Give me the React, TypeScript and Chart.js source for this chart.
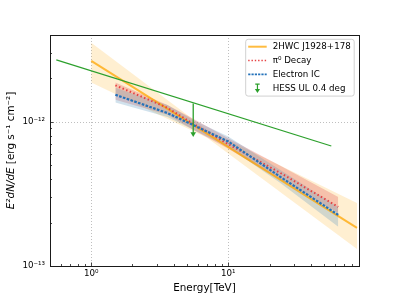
import React, { useEffect, useRef } from 'react';
import { Chart, registerables } from 'chart.js';

Chart.register(...registerables);

const FONT_FAMILY = "'DejaVu Sans', 'Liberation Sans', sans-serif";
const FONT_SIZE = 8.7;
const TITLE_SIZE = 10.4;

// Axis ranges & ticks
const xRange = [0.5, 90];
const yRange = [1e-13, 4e-12];
const xTickValues = [1, 10];
const xTickLabels = ['10⁰', '10¹'];
const yTickValues = [1e-13, 1e-12];
const yTickLabels = ['10⁻¹³', '10⁻¹²'];
const xMinorTicks = [0.5, 0.6, 0.7, 0.8, 0.9, 2, 3, 4, 5, 6, 7, 8, 9, 20, 30, 40, 50, 60, 70, 80, 90];
const yMinorTicks = [2e-13, 3e-13, 4e-13, 5e-13, 6e-13, 7e-13, 8e-13, 9e-13, 2e-12, 3e-12];

// 2HWC J1928+178 power law (TeV, erg s^-1 cm^-2)
const hawcEnergy = [1, 87];
const hawcFlux = [2.65e-12, 1.84e-13];
const hawcBandEnergy = [1, 7.0, 87];
const hawcBandUpper = [3.54e-12, 8.8e-13, 2.74e-13];
const hawcBandLower = [1.87e-12, 7.74e-13, 1.31e-13];

// Model energies
const modelEnergy = [1.5, 3.6, 5.55, 10, 24, 63.5];
// pi0 decay
const piFlux = [1.79e-12, 1.25e-12, 9.7e-13, 7.0e-13, 4.42e-13, 2.57e-13];
const piUpper = [1.87e-12, 1.31e-12, 1.05e-12, 7.7e-13, 4.95e-13, 3.01e-13];
const piLower = [1.42e-12, 1.12e-12, 8.8e-13, 6.5e-13, 3.96e-13, 2.33e-13];
// Electron IC
const icFlux = [1.54e-12, 1.15e-12, 9.5e-13, 7.3e-13, 4.15e-13, 2.26e-13];
const icUpper = [1.72e-12, 1.31e-12, 1.03e-12, 7.9e-13, 4.64e-13, 2.57e-13];
const icLower = [1.36e-12, 1.08e-12, 8.8e-13, 6.7e-13, 3.77e-13, 1.87e-13];

// Green sensitivity line
const greenEnergy = [0.556, 56.5];
const greenFlux = [2.69e-12, 6.8e-13];

// HESS upper limit
const hessEnergy = [5.55, 5.55];
const hessFlux = [1.34e-12, 8.25e-13];

const legendLabels = ['2HWC J1928+178', 'π⁰ Decay', 'Electron IC', 'HESS UL 0.4 deg'];

const ORANGE_LINE = 'rgba(255,165,0,0.75)';
const ORANGE_BAND = 'rgba(255,165,0,0.18)';
const RED_LINE = 'rgb(230,64,66)';
const RED_BAND = 'rgba(220,60,60,0.26)';
const BLUE_LINE = 'rgb(36,114,186)';
const BLUE_BAND = 'rgba(90,150,190,0.28)';
const GREEN = '#2ca02c';

const pts = (xs: number[], ys: number[]) => xs.map((x, i) => ({ x, y: ys[i] }));

const font = (style = '', size = FONT_SIZE) => `${style} ${size}px ${FONT_FAMILY}`.trim();

const decorPlugin = {
  id: 'decor',
  beforeDatasetsDraw(chart: any) {
    const { ctx, chartArea } = chart;
    const xs = chart.scales.x;
    const ys = chart.scales.y;
    const { left, right, top, bottom } = chartArea;
    ctx.save();
    ctx.strokeStyle = '#b8b8b8';
    ctx.lineWidth = 0.9;
    ctx.setLineDash([1, 2]);
    xTickValues.forEach((v) => {
      const px = Math.round(xs.getPixelForValue(v)) + 0.5;
      ctx.beginPath();
      ctx.moveTo(px, top);
      ctx.lineTo(px, bottom);
      ctx.stroke();
    });
    yTickValues.forEach((v) => {
      const py = Math.round(ys.getPixelForValue(v)) + 0.5;
      if (py > bottom - 1) return;
      ctx.beginPath();
      ctx.moveTo(left, py);
      ctx.lineTo(right, py);
      ctx.stroke();
    });
    ctx.restore();
  },
  afterDraw(chart: any) {
    const { ctx, chartArea } = chart;
    const xs = chart.scales.x;
    const ys = chart.scales.y;
    const { left, right, top, bottom } = chartArea;
    ctx.save();
    // Frame
    ctx.strokeStyle = '#1a1a1a';
    ctx.lineWidth = 1;
    ctx.setLineDash([]);
    ctx.strokeRect(Math.round(left) + 0.5, Math.round(top) + 0.5, Math.round(right - left), Math.round(bottom - top));
    // Ticks (inside)
    ctx.lineWidth = 0.8;
    const drawX = (v: number, len: number) => {
      const px = Math.round(xs.getPixelForValue(v)) + 0.5;
      ctx.beginPath();
      ctx.moveTo(px, bottom);
      ctx.lineTo(px, bottom - len);
      ctx.stroke();
    };
    const drawY = (v: number, len: number) => {
      const py = Math.round(ys.getPixelForValue(v)) + 0.5;
      ctx.beginPath();
      ctx.moveTo(left, py);
      ctx.lineTo(left + len, py);
      ctx.stroke();
    };
    xTickValues.forEach((v) => drawX(v, 3.5));
    xMinorTicks.forEach((v) => drawX(v, 2));
    yTickValues.forEach((v) => drawY(v, 3.5));
    yMinorTicks.forEach((v) => drawY(v, 2));

    // Y title (mathtext-like)
    ctx.fillStyle = '#000';
    ctx.translate(11, (top + bottom) / 2);
    ctx.rotate(-Math.PI / 2);
    ctx.textBaseline = 'middle';
    ctx.textAlign = 'left';
    const p1 = 'E²dN/dE';
    const p2 = ' [erg s⁻¹ cm⁻²]';
    ctx.font = font('italic', TITLE_SIZE);
    const w1 = ctx.measureText(p1).width;
    ctx.font = font('', TITLE_SIZE);
    const w2 = ctx.measureText(p2).width;
    const sx = -(w1 + w2) / 2;
    ctx.font = font('italic', TITLE_SIZE);
    ctx.fillText(p1, sx, 0);
    ctx.font = font('', TITLE_SIZE);
    ctx.fillText(p2, sx + w1, 0);
    ctx.restore();

    // Legend
    ctx.save();
    const bw = 108.5;
    const bh = 56.8;
    const bx = right - 4.8 - bw;
    const by = top + 4.3;
    ctx.beginPath();
    (ctx as any).roundRect(bx, by, bw, bh, 2.5);
    ctx.fillStyle = 'rgba(255,255,255,0.85)';
    ctx.fill();
    ctx.strokeStyle = '#cccccc';
    ctx.lineWidth = 0.9;
    ctx.stroke();
    const hx0 = bx + 2.5;
    const hx1 = bx + 21;
    const tx = bx + 27;
    legendLabels.forEach((label, i) => {
      const ry = by + 7.4 + i * 13.8;
      ctx.setLineDash([]);
      if (i === 0) {
        ctx.strokeStyle = ORANGE_LINE;
        ctx.lineWidth = 2;
        ctx.beginPath();
        ctx.moveTo(hx0, ry);
        ctx.lineTo(hx1, ry);
        ctx.stroke();
      } else if (i === 1) {
        ctx.strokeStyle = RED_LINE;
        ctx.lineWidth = 1.6;
        ctx.setLineDash([1.4, 1.9]);
        ctx.beginPath();
        ctx.moveTo(hx0, ry);
        ctx.lineTo(hx1, ry);
        ctx.stroke();
      } else if (i === 2) {
        ctx.strokeStyle = BLUE_LINE;
        ctx.lineWidth = 1.8;
        ctx.setLineDash([2.2, 1.1]);
        ctx.beginPath();
        ctx.moveTo(hx0, ry);
        ctx.lineTo(hx1, ry);
        ctx.stroke();
      } else {
        const cx = (hx0 + hx1) / 2;
        ctx.strokeStyle = GREEN;
        ctx.fillStyle = GREEN;
        ctx.lineWidth = 1.2;
        ctx.beginPath();
        ctx.moveTo(cx - 2.2, ry - 4);
        ctx.lineTo(cx + 2.2, ry - 4);
        ctx.moveTo(cx, ry - 4);
        ctx.lineTo(cx, ry + 2);
        ctx.stroke();
        ctx.beginPath();
        ctx.moveTo(cx - 2.6, ry + 1);
        ctx.lineTo(cx + 2.6, ry + 1);
        ctx.lineTo(cx, ry + 5);
        ctx.closePath();
        ctx.fill();
      }
      ctx.setLineDash([]);
      ctx.fillStyle = '#000';
      ctx.font = font();
      ctx.textBaseline = 'middle';
      ctx.textAlign = 'left';
      ctx.fillText(label, tx, ry + 0.5);
    });
    ctx.restore();
  },
};

export default function App() {
  const ref = useRef<HTMLCanvasElement>(null);

  useEffect(() => {
    document.body.style.margin = '0';
    const canvas = ref.current;
    if (!canvas) return;
    Chart.defaults.font.family = FONT_FAMILY;
    Chart.defaults.font.size = FONT_SIZE;
    Chart.defaults.color = '#000';

    const base = { pointRadius: 0, pointHoverRadius: 0, tension: 0 };

    const chart = new Chart(canvas, {
      type: 'line',
      data: {
        datasets: [
          { ...base, label: 'hawc upper', data: pts(hawcBandEnergy, hawcBandUpper), borderWidth: 0, borderColor: 'rgba(0,0,0,0)', backgroundColor: ORANGE_BAND, fill: '+1', order: 20 },
          { ...base, label: 'hawc lower', data: pts(hawcBandEnergy, hawcBandLower), borderWidth: 0, borderColor: 'rgba(0,0,0,0)', fill: false, order: 20 },
          { ...base, label: 'pi upper', data: pts(modelEnergy, piUpper), borderWidth: 0, borderColor: 'rgba(0,0,0,0)', backgroundColor: RED_BAND, fill: '+1', order: 19 },
          { ...base, label: 'pi lower', data: pts(modelEnergy, piLower), borderWidth: 0, borderColor: 'rgba(0,0,0,0)', fill: false, order: 19 },
          { ...base, label: 'ic upper', data: pts(modelEnergy, icUpper), borderWidth: 0, borderColor: 'rgba(0,0,0,0)', backgroundColor: BLUE_BAND, fill: '+1', order: 18 },
          { ...base, label: 'ic lower', data: pts(modelEnergy, icLower), borderWidth: 0, borderColor: 'rgba(0,0,0,0)', fill: false, order: 18 },
          { ...base, label: legendLabels[0], data: pts(hawcEnergy, hawcFlux), borderColor: ORANGE_LINE, borderWidth: 2, fill: false, order: 10 },
          { ...base, label: legendLabels[1], data: pts(modelEnergy, piFlux), borderColor: RED_LINE, borderWidth: 2, borderDash: [1.5, 2.4], borderCapStyle: 'butt', fill: false, order: 9 },
          { ...base, label: legendLabels[2], data: pts(modelEnergy, icFlux), borderColor: BLUE_LINE, borderWidth: 2.2, borderDash: [2.6, 1.4], fill: false, order: 8 },
          { ...base, label: 'green', data: pts(greenEnergy, greenFlux), borderColor: GREEN, borderWidth: 1.2, fill: false, order: 7 },
          {
            label: legendLabels[3],
            data: pts(hessEnergy, hessFlux),
            borderColor: GREEN,
            backgroundColor: GREEN,
            borderWidth: 1.3,
            fill: false,
            order: 6,
            tension: 0,
            pointRadius: [0, 3.2],
            pointHoverRadius: 0,
            pointStyle: 'triangle',
            rotation: 180,
            pointBorderWidth: 0,
          } as any,
        ],
      },
      options: {
        responsive: false,
        animation: false,
        events: [],
        layout: { padding: { left: 0, top: 35, right: 40, bottom: 0 } },
        plugins: {
          legend: { display: false },
          tooltip: { enabled: false },
        },
        scales: {
          x: {
            type: 'logarithmic',
            min: xRange[0],
            max: xRange[1],
            bounds: 'data',
            grid: { display: false, drawTicks: false },
            border: { display: false },
            afterBuildTicks: (axis: any) => {
              axis.ticks = xTickValues.map((v) => ({ value: v }));
            },
            afterFit: (scale: any) => {
              scale.height = 33;
            },
            ticks: {
              padding: 3,
              maxRotation: 0,
              autoSkip: false,
              color: '#000',
              font: { size: FONT_SIZE, family: FONT_FAMILY },
              callback: (_v: any, i: number) => xTickLabels[i],
            },
            title: {
              display: true,
              text: 'Energy[TeV]',
              color: '#000',
              font: { size: TITLE_SIZE, family: FONT_FAMILY },
              padding: { top: 0, bottom: 4 },
            },
          },
          y: {
            type: 'logarithmic',
            min: yRange[0],
            max: yRange[1],
            bounds: 'data',
            grid: { display: false, drawTicks: false },
            border: { display: false },
            afterBuildTicks: (axis: any) => {
              axis.ticks = yTickValues.map((v) => ({ value: v }));
            },
            afterFit: (scale: any) => {
              scale.width = 50;
            },
            ticks: {
              padding: 5,
              autoSkip: false,
              color: '#000',
              font: { size: FONT_SIZE, family: FONT_FAMILY },
              callback: (_v: any, i: number) => yTickLabels[i],
            },
          },
        },
      },
      plugins: [decorPlugin],
    } as any);

    return () => chart.destroy();
  }, []);

  return (
    <div style={{ width: 399, height: 299 }}>
      <canvas ref={ref} width={399} height={299} style={{ display: 'block' }} />
    </div>
  );
}
